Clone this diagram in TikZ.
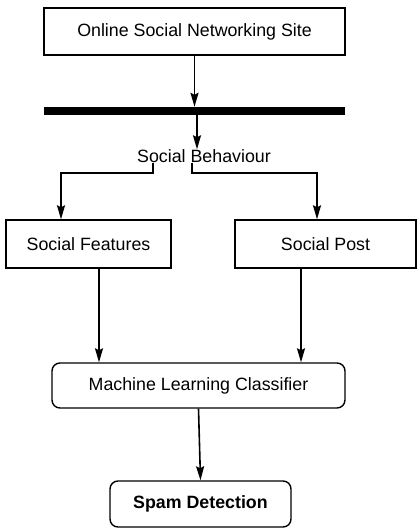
\documentclass[tikz,border=0pt]{standalone}
\usepackage{fontspec}
\setmainfont{Liberation Sans}
\usetikzlibrary{positioning}
\usetikzlibrary{arrows.meta}

\tikzset{
  box/.style={draw, line width=1.4pt, inner sep=0pt, font=\fontsize{17.8}{21}\selectfont},
  rbox/.style={box, rounded corners=8pt},
  flow/.style={line width=1.6pt, ->, >={Stealth[length=14pt,width=8pt,inset=2pt]}}
}

\begin{document}
\begin{tikzpicture}[x=1pt, y=-1pt]
            \useasboundingbox (0,0) rectangle (418,532);

            % Boxes
            \node[box, minimum width=301pt, minimum height=47pt] (site) at (194.5,31.5) {Online Social Networking Site};
            \node[fill=black, inner sep=0pt, minimum width=301pt, minimum height=8pt] (bar) at (194.5,111) {};
            \node[inner sep=0pt, font=\fontsize{17.8}{21}\selectfont] (behav) at (204,156) {Social Behaviour};
            \node[box, minimum width=165pt, minimum height=48pt] (feat) at (88.5,244) {Social Features};
            \node[box, minimum width=181pt, minimum height=48pt] (post) at (325.5,244) {Social Post};
            \node[rbox, minimum width=293pt, minimum height=45pt] (ml) at (198.5,385.5) {Machine Learning Classifier};
            \node[rbox, minimum width=181pt, minimum height=46pt, font=\fontsize{17.8}{21}\selectfont\bfseries] (spam) at (200.5,504) {Spam Detection};

            % Arrows
            \draw[flow] (site.south) -- (site.south |- bar.north);
            \draw[flow] ([xshift=2.5pt]bar.south) -- ([xshift=-7pt]behav.north);
            \draw[flow] ([xshift=-51pt]behav.south) -- ++(0,10) -| ([xshift=-27.5pt]feat.north);
            \draw[flow] ([xshift=-12pt]behav.south) -- ++(0,10) -| ([xshift=-8.5pt]post.north);
            \draw[flow] ([xshift=10.5pt]feat.south) -- ([xshift=10.5pt]feat.south |- ml.north);
            \draw[flow] ([xshift=-24.5pt]post.south) -- ([xshift=-24.5pt]post.south |- ml.north);
            \draw[flow] (ml.south) -- (spam.north);

        \end{tikzpicture}
\end{document}
